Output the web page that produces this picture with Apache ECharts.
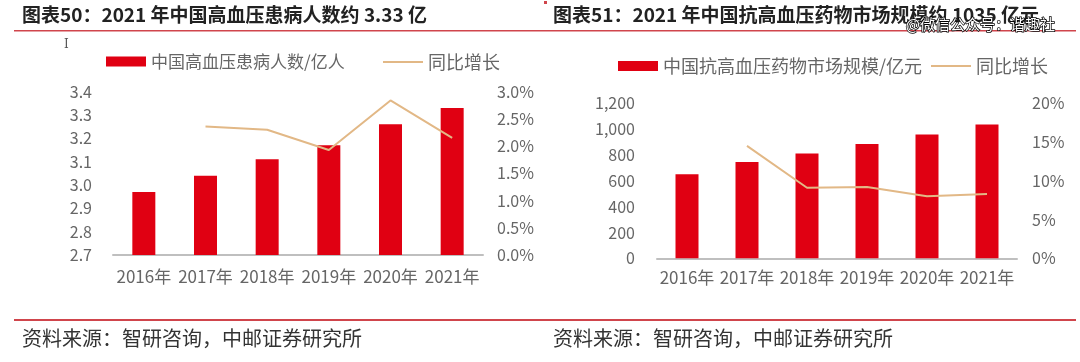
<!DOCTYPE html>
<html><head><meta charset="utf-8">
<script src="https://cdn.jsdelivr.net/npm/echarts@6/dist/echarts.min.js"></script>
<style>html,body{margin:0;padding:0;background:#fff}#c{width:1080px;height:362px}</style>
</head><body><div id="c"></div>
<script>
const categories = ['2016年','2017年','2018年','2019年','2020年','2021年'];
const patients = [2.97, 3.04, 3.11, 3.17, 3.26, 3.33];
const patientsGrowth = [null, 2.36, 2.30, 1.93, 2.84, 2.15];
const market = [650, 745, 812, 885, 958, 1035];
const marketGrowth = [null, 14.5, 9.1, 9.2, 8.0, 8.3];
const title1 = '图表50：2021 年中国高血压患病人数约 3.33 亿';
const title2 = '图表51：2021 年中国抗高血压药物市场规模约 1035 亿元';
const legend1 = ['中国高血压患病人数/亿人', '同比增长'];
const legend2 = ['中国抗高血压药物市场规模/亿元', '同比增长 '];
const source = '资料来源：智研咨询，中邮证券研究所';
const watermark = '@微信公众号：谐趣社';

const RED = '#E00012', TAN = '#E2B886', GRAY = '#666666';
const FONT = '"Noto Sans CJK SC", "Noto Sans", sans-serif';
const chart = echarts.init(document.getElementById('c'));
const axisLabel = {color: GRAY, fontSize: 16, fontFamily: FONT};
const xLabel = {color: GRAY, fontSize: 17, fontFamily: FONT};
function leg(name, left, top, h, fs) {
  return {data: [name], left: left, top: top, padding: 0, itemWidth: 40, itemHeight: h, itemGap: 0,
    icon: 'rect', textStyle: {color: GRAY, fontSize: fs, fontFamily: FONT, padding: [0, 0, 0, 0]}};
}
chart.setOption({
  animation: false,
  textStyle: {fontFamily: FONT},
  grid: [
    {left: 113, top: 91.7, width: 370, height: 163.3},
    {left: 657, top: 103.3, width: 360, height: 155}
  ],
  legend: [
    leg(legend1[0], 106, 53, 10, 17),
    leg(legend1[1], 383, 53, 2, 18),
    leg(legend2[0], 618, 57, 10, 18),
    leg(legend2[1], 931, 57, 2, 18)
  ],
  xAxis: [
    {type: 'category', data: categories, gridIndex: 0, axisTick: {show: false},
     axisLine: {lineStyle: {color: '#BFBFBF', width: 2}}, axisLabel: Object.assign({interval: 0, margin: 13}, xLabel)},
    {type: 'category', data: categories, gridIndex: 1, axisTick: {show: false},
     axisLine: {lineStyle: {color: '#BFBFBF', width: 2}}, axisLabel: Object.assign({interval: 0, margin: 11}, xLabel)}
  ],
  yAxis: [
    {type: 'value', gridIndex: 0, min: 2.7, max: 3.4, interval: 0.1, splitLine: {show: false},
     axisLabel: Object.assign({margin: 21, formatter: v => v.toFixed(1)}, axisLabel)},
    {type: 'value', gridIndex: 0, min: 0, max: 3, interval: 0.5, splitLine: {show: false}, position: 'right',
     axisLabel: Object.assign({margin: 14, formatter: v => v.toFixed(1) + '%'}, axisLabel)},
    {type: 'value', gridIndex: 1, min: 0, max: 1200, interval: 200, splitLine: {show: false},
     axisLabel: Object.assign({margin: 22, formatter: v => v.toLocaleString('en-US')}, axisLabel)},
    {type: 'value', gridIndex: 1, min: 0, max: 20, interval: 5, splitLine: {show: false}, position: 'right',
     axisLabel: Object.assign({margin: 15, formatter: v => v + '%'}, axisLabel)}
  ],
  series: [
    {name: legend1[0], type: 'bar', xAxisIndex: 0, yAxisIndex: 0, data: patients, barWidth: 23, itemStyle: {color: RED}},
    {name: legend1[1], type: 'line', xAxisIndex: 0, yAxisIndex: 1, data: patientsGrowth, symbol: 'none',
     lineStyle: {color: TAN, width: 2}, itemStyle: {color: TAN}},
    {name: legend2[0], type: 'bar', xAxisIndex: 1, yAxisIndex: 2, data: market, barWidth: 23, itemStyle: {color: RED}},
    {name: legend2[1], type: 'line', xAxisIndex: 1, yAxisIndex: 3, data: marketGrowth, symbol: 'none',
     lineStyle: {color: TAN, width: 2}, itemStyle: {color: TAN}}
  ],
  graphic: [
    {type: 'text', left: 22, top: 5, style: {text: title1, fontSize: 19, fontWeight: 'bold', fill: '#222', fontFamily: FONT}},
    {type: 'text', left: 553, top: 5, style: {text: title2, fontSize: 19, fontWeight: 'bold', fill: '#222', fontFamily: FONT}},
    {type: 'rect', shape: {x: 14, y: 30, width: 1062, height: 1.5}, style: {fill: '#D0454C'}},
    {type: 'rect', shape: {x: 544, y: 1, width: 3, height: 3}, style: {fill: '#D0454C'}},
    {type: 'rect', shape: {x: 14, y: 319, width: 1062, height: 2}, style: {fill: '#D0454C'}},
    {type: 'text', left: 22, top: 328, style: {text: source, fontSize: 20, fill: '#333', fontFamily: FONT}},
    {type: 'text', left: 553, top: 328, style: {text: source, fontSize: 20, fill: '#333', fontFamily: FONT}},
    {type: 'text', left: 905, top: 16, style: {text: watermark, fontSize: 15, fill: '#fff', stroke: '#000', lineWidth: 1.5, fontFamily: FONT}},
    {type: 'text', left: 64, top: 39, style: {text: 'I', fontSize: 12, fill: '#555', fontFamily: 'DejaVu Serif'}}
  ]
});
</script></body></html>
